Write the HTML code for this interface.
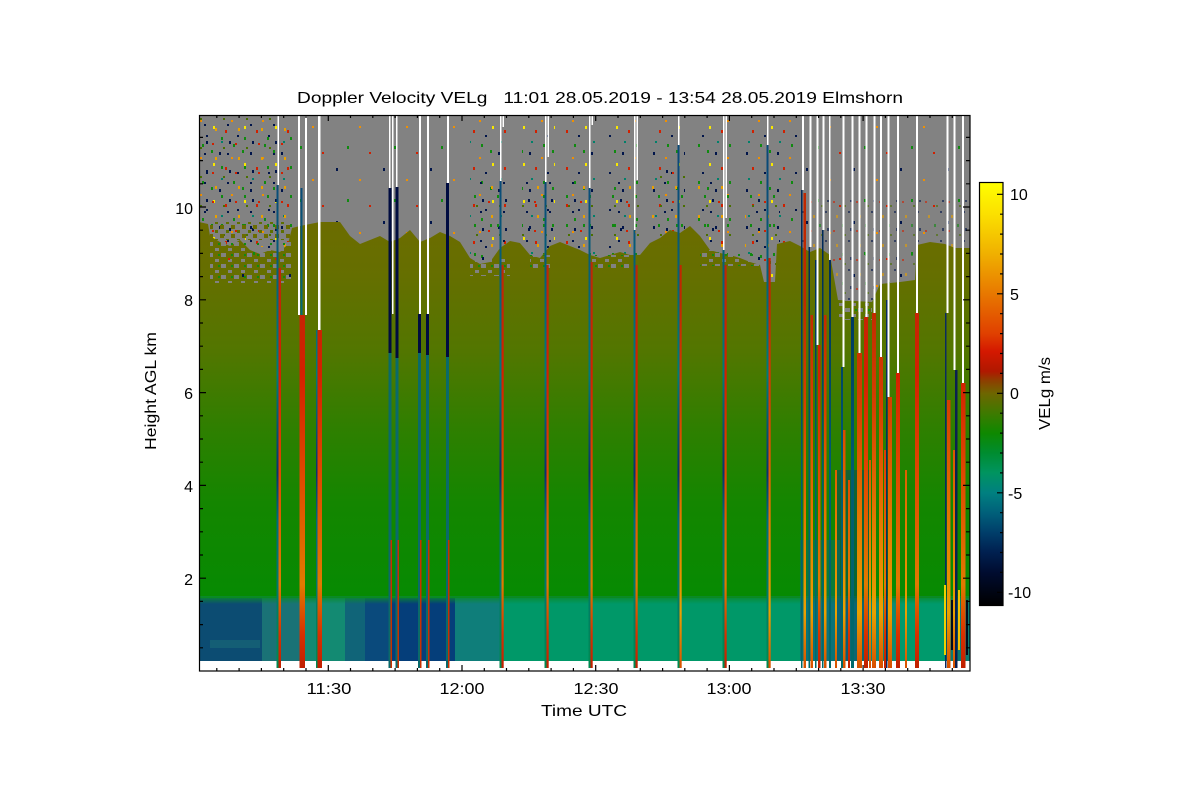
<!DOCTYPE html>
<html>
<head>
<meta charset="utf-8">
<style>
html,body{margin:0;padding:0;background:#fff;}
svg{display:block;}
text{font-family:"Liberation Sans",Arial,sans-serif;fill:#000;}
</style>
</head>
<body>
<svg width="1200" height="800" viewBox="0 0 1200 800" xmlns="http://www.w3.org/2000/svg">
<defs>
  <clipPath id="pc"><rect x="199" y="115" width="771" height="556"/></clipPath>
  <pattern id="p1" patternUnits="userSpaceOnUse" x="0" y="0" width="31" height="37">
    <rect x="2" y="4" width="2" height="3" fill="#00144a"/>
    <rect x="14" y="9" width="2" height="2" fill="#f09000"/>
    <rect x="25" y="2" width="2" height="3" fill="#108a10"/>
    <rect x="8" y="19" width="2" height="3" fill="#d02000"/>
    <rect x="20" y="24" width="2" height="2" fill="#00144a"/>
    <rect x="27" y="15" width="2" height="3" fill="#f8e800"/>
    <rect x="4" y="30" width="2" height="2" fill="#00806a"/>
    <rect x="16" y="33" width="2" height="3" fill="#108a10"/>
  </pattern>
  <pattern id="p2" patternUnits="userSpaceOnUse" x="3" y="5" width="23" height="29">
    <rect x="5" y="7" width="2" height="3" fill="#e8a000"/>
    <rect x="17" y="3" width="2" height="2" fill="#00144a"/>
    <rect x="11" y="16" width="2" height="3" fill="#108a10"/>
    <rect x="2" y="22" width="2" height="2" fill="#d02000"/>
    <rect x="19" y="20" width="2" height="3" fill="#00144a"/>
    <rect x="13" y="26" width="2" height="2" fill="#4a7000"/>
  </pattern>
  <pattern id="p3" patternUnits="userSpaceOnUse" x="0" y="0" width="47" height="53">
    <rect x="7" y="9" width="2" height="3" fill="#00144a"/>
    <rect x="30" y="20" width="2" height="2" fill="#f09000"/>
    <rect x="18" y="40" width="2" height="3" fill="#108a10"/>
    <rect x="40" y="46" width="2" height="2" fill="#d02000"/>
  </pattern>
  <pattern id="pg" patternUnits="userSpaceOnUse" x="0" y="0" width="13" height="11">
    <rect x="0" y="0" width="5" height="4" fill="#828282"/>
    <rect x="7" y="6" width="4" height="3" fill="#828282"/>
    <rect x="10" y="1" width="2" height="2" fill="#108a10"/>
  </pattern>
  <pattern id="po" patternUnits="userSpaceOnUse" x="0" y="0" width="11" height="9">
    <rect x="0" y="0" width="4" height="4" fill="#6a6c00"/>
    <rect x="6" y="5" width="3" height="3" fill="#5e7000"/>
  </pattern>
  <linearGradient id="cg" gradientUnits="userSpaceOnUse" x1="0" y1="220" x2="0" y2="597">
    <stop offset="0" stop-color="#6c6c00"/>
    <stop offset="0.15" stop-color="#656f00"/>
    <stop offset="0.35" stop-color="#527600"/>
    <stop offset="0.55" stop-color="#2f7f00"/>
    <stop offset="0.75" stop-color="#148600"/>
    <stop offset="1" stop-color="#068a02"/>
  </linearGradient>
  <linearGradient id="rs" gradientUnits="userSpaceOnUse" x1="0" y1="250" x2="0" y2="668">
    <stop offset="0" stop-color="#b82a08"/>
    <stop offset="0.3" stop-color="#d42000"/>
    <stop offset="0.55" stop-color="#e04a00"/>
    <stop offset="0.8" stop-color="#e07a00"/>
    <stop offset="0.92" stop-color="#d83000"/>
    <stop offset="1" stop-color="#c02000"/>
  </linearGradient>
  <linearGradient id="ts" gradientUnits="userSpaceOnUse" x1="0" y1="180" x2="0" y2="668">
    <stop offset="0" stop-color="#0a4a78"/>
    <stop offset="0.4" stop-color="#007a7a"/>
    <stop offset="0.6" stop-color="#0a3070"/>
    <stop offset="0.7" stop-color="#006a80"/>
    <stop offset="1" stop-color="#008a50"/>
  </linearGradient>
  <linearGradient id="ro" gradientUnits="userSpaceOnUse" x1="0" y1="300" x2="0" y2="668">
    <stop offset="0" stop-color="#c02800"/>
    <stop offset="0.3" stop-color="#d84000"/>
    <stop offset="0.6" stop-color="#e47800"/>
    <stop offset="0.85" stop-color="#eaa000"/>
    <stop offset="1" stop-color="#d85000"/>
  </linearGradient>
  <linearGradient id="nv" gradientUnits="userSpaceOnUse" x1="0" y1="250" x2="0" y2="668">
    <stop offset="0" stop-color="#002a58"/>
    <stop offset="0.5" stop-color="#005a72"/>
    <stop offset="1" stop-color="#006a6a"/>
  </linearGradient>
  <linearGradient id="blg" x1="0" y1="0" x2="0" y2="1">
    <stop offset="0" stop-color="#0a8a2a"/>
    <stop offset="1" stop-color="#0a8a2a" stop-opacity="0"/>
  </linearGradient>
  <linearGradient id="cb" x1="0" y1="0" x2="0" y2="1">
    <stop offset="0" stop-color="#ffff00"/>
    <stop offset="0.076" stop-color="#fbe000"/>
    <stop offset="0.17" stop-color="#f0b000"/>
    <stop offset="0.264" stop-color="#e87800"/>
    <stop offset="0.358" stop-color="#e04000"/>
    <stop offset="0.40" stop-color="#d41800"/>
    <stop offset="0.447" stop-color="#b01800"/>
    <stop offset="0.47" stop-color="#8c4000"/>
    <stop offset="0.499" stop-color="#6e6600"/>
    <stop offset="0.546" stop-color="#3e7a00"/>
    <stop offset="0.593" stop-color="#0e8800"/>
    <stop offset="0.64" stop-color="#008c30"/>
    <stop offset="0.687" stop-color="#009460"/>
    <stop offset="0.734" stop-color="#008080"/>
    <stop offset="0.781" stop-color="#00607a"/>
    <stop offset="0.828" stop-color="#003e6a"/>
    <stop offset="0.874" stop-color="#002050"/>
    <stop offset="0.922" stop-color="#000c30"/>
    <stop offset="1" stop-color="#000000"/>
  </linearGradient>
</defs>

<!-- Title -->
<text x="297" y="103" font-size="16" textLength="606" lengthAdjust="spacingAndGlyphs" style="white-space:pre">Doppler Velocity VELg   11:01 28.05.2019 - 13:54 28.05.2019 Elmshorn</text>

<g clip-path="url(#pc)">
  <!-- gray background -->
  <rect x="199" y="115" width="771" height="546" fill="#828282"/>
  <!-- speckles -->
  <rect x="199" y="118" width="93" height="170" fill="url(#p1)"/>
  <rect x="199" y="118" width="93" height="170" fill="url(#p2)"/>
  <rect x="300" y="118" width="160" height="140" fill="url(#p3)"/>
  <rect x="470" y="118" width="40" height="160" fill="url(#p1)"/>
  <rect x="470" y="180" width="40" height="95" fill="url(#p2)"/>
  <rect x="522" y="118" width="33" height="150" fill="url(#p1)"/>
  <rect x="522" y="180" width="33" height="90" fill="url(#p2)"/>
  <rect x="565" y="118" width="30" height="150" fill="url(#p1)"/>
  <rect x="565" y="180" width="30" height="90" fill="url(#p2)"/>
  <rect x="608" y="118" width="32" height="150" fill="url(#p1)"/>
  <rect x="608" y="180" width="32" height="90" fill="url(#p2)"/>
  <rect x="652" y="118" width="33" height="130" fill="url(#p1)"/>
  <rect x="652" y="170" width="33" height="80" fill="url(#p2)"/>
  <rect x="698" y="118" width="34" height="150" fill="url(#p1)"/>
  <rect x="698" y="180" width="34" height="90" fill="url(#p2)"/>
  <rect x="745" y="118" width="55" height="170" fill="url(#p1)"/>
  <rect x="745" y="190" width="35" height="100" fill="url(#p2)"/>
  <rect x="800" y="118" width="168" height="200" fill="url(#p3)"/>
  <rect x="800" y="200" width="168" height="120" fill="url(#p2)" opacity="0.6"/>
  <!-- cloud -->
  <polygon fill="url(#cg)" points="199,222 208,224 210,236 220,242 230,246 240,240 250,250 260,254 270,250 280,252 288,244 292,228 300,226 310,224 320,222 340,222 350,236 360,244 370,240 380,236 390,242 400,238 410,230 420,242 430,238 440,232 450,236 460,242 470,258 480,264 490,262 500,248 510,241 520,243 530,255 540,258 550,246 560,242 570,246 580,250 590,255 600,258 610,255 620,252 630,255 640,255 650,243 660,238 670,230 680,233 690,226 700,236 710,250 720,253 730,255 740,258 750,262 760,265 764,282 775,282 777,244 790,241 800,246 810,252 820,248 830,255 838,300 872,302 880,284 900,282 915,280 917,245 930,242 945,244 955,248 970,248 970,598 199,598"/>
  <!-- ragged edges -->
  <rect x="210" y="238" width="82" height="45" fill="url(#pg)"/>
  <rect x="210" y="238" width="82" height="45" fill="url(#p3)"/>
  <rect x="210" y="222" width="82" height="18" fill="url(#po)"/>
  <rect x="470" y="258" width="40" height="18" fill="url(#pg)"/>
  <rect x="530" y="255" width="20" height="15" fill="url(#pg)"/>
  <rect x="590" y="255" width="40" height="15" fill="url(#pg)"/>
  <rect x="700" y="250" width="60" height="16" fill="url(#pg)"/>
  <rect x="838" y="300" width="34" height="20" fill="url(#pg)"/>
  <!-- boundary layer -->
  <rect x="199" y="598" width="64" height="63" fill="#0c4c72"/>
  <rect x="262" y="598" width="39" height="63" fill="#1a7276"/>
  <rect x="300" y="598" width="46" height="63" fill="#138a72"/>
  <rect x="345" y="598" width="21" height="63" fill="#106478"/>
  <rect x="365" y="598" width="28" height="63" fill="#0a4a7c"/>
  <rect x="392" y="598" width="64" height="63" fill="#053e7a"/>
  <rect x="455" y="598" width="46" height="63" fill="#0f7e7a"/>
  <rect x="500" y="598" width="301" height="63" fill="#009868"/>
  <rect x="800" y="598" width="51" height="63" fill="#0a7a78"/>
  <rect x="850" y="598" width="51" height="63" fill="#0e8a72"/>
  <rect x="900" y="598" width="46" height="63" fill="#009a6c"/>
  <rect x="945" y="598" width="25" height="63" fill="#0a7a70"/>
  <rect x="199" y="596" width="771" height="8" fill="url(#blg)"/>
  <rect x="210" y="640" width="50" height="8" fill="#1a6a78" opacity="0.6"/>
  <!-- right turbulent patches -->
  <rect x="835" y="470" width="35" height="191" fill="#0a3a70" opacity="0.45"/>
  <rect x="800" y="540" width="40" height="121" fill="#0a6a78" opacity="0.45"/>
  <!-- white bottom band -->
  <rect x="199" y="661" width="771" height="10" fill="#ffffff"/>

  <!-- left group -->
  <rect x="277.5" y="115" width="1.5" height="70" fill="#fff"/>
  <rect x="276.5" y="185" width="2" height="483" fill="url(#ts)"/>
  <rect x="278.5" y="268" width="2.5" height="400" fill="url(#rs)"/>

  <rect x="298" y="115" width="2" height="200" fill="#fff"/>
  <rect x="300.5" y="188" width="2" height="480" fill="url(#ts)"/>
  <rect x="305" y="115" width="2" height="200" fill="#fff"/>
  <rect x="299.5" y="315" width="5.5" height="353" fill="url(#rs)"/>

  <rect x="318" y="115" width="2.5" height="215" fill="#fff"/>
  <rect x="316" y="330" width="1.5" height="338" fill="url(#ts)"/>
  <rect x="317.5" y="330" width="4.5" height="338" fill="url(#rs)"/>

  <!-- navy group -->
  <rect x="389" y="115" width="1.5" height="73" fill="#fff"/>
  <rect x="388.5" y="188" width="3" height="165" fill="#000c40"/>
  <rect x="392" y="115" width="1.5" height="199" fill="#fff"/>
  <rect x="388.5" y="353" width="3" height="315" fill="#0a6a6a"/>
  <rect x="390.5" y="540" width="1.5" height="128" fill="#c83000"/>

  <rect x="396" y="115" width="1.5" height="72" fill="#fff"/>
  <rect x="395.5" y="187" width="3" height="171" fill="#000c40"/>
  <rect x="395.5" y="358" width="3" height="310" fill="#0a6a6a"/>
  <rect x="397.5" y="540" width="1.5" height="128" fill="#c83000"/>

  <rect x="419" y="115" width="2" height="199" fill="#fff"/>
  <rect x="418" y="314" width="3" height="39" fill="#000c40"/>
  <rect x="418" y="353" width="3" height="315" fill="#0a6a6a"/>
  <rect x="420" y="540" width="1.5" height="128" fill="#c83000"/>

  <rect x="427" y="115" width="2" height="199" fill="#fff"/>
  <rect x="426" y="314" width="3" height="41" fill="#000c40"/>
  <rect x="426" y="355" width="3" height="313" fill="#0a6a6a"/>
  <rect x="428" y="540" width="1.5" height="128" fill="#c83000"/>

  <rect x="447" y="115" width="2" height="68" fill="#fff"/>
  <rect x="446" y="183" width="3" height="174" fill="#000c40"/>
  <rect x="446" y="357" width="3" height="311" fill="#0a6a6a"/>
  <rect x="448" y="540" width="1.5" height="128" fill="#c83000"/>

  <!-- main group -->
  <rect x="500" y="115" width="1.5" height="66" fill="#fff"/>
  <rect x="502.5" y="115" width="1.5" height="12" fill="#fff"/>
  <rect x="499.5" y="181" width="2" height="487" fill="url(#ts)"/>
  <rect x="501.5" y="265" width="2.2" height="403" fill="url(#rs)"/>

  <rect x="545" y="115" width="1.5" height="67" fill="#fff"/>
  <rect x="547.5" y="115" width="1.5" height="42" fill="#fff"/>
  <rect x="544.5" y="182" width="2" height="486" fill="url(#ts)"/>
  <rect x="546.5" y="265" width="2.2" height="403" fill="url(#rs)"/>

  <rect x="589" y="115" width="1.5" height="73" fill="#fff"/>
  <rect x="591.5" y="115" width="1.5" height="10" fill="#fff"/>
  <rect x="588.5" y="188" width="2" height="480" fill="url(#ts)"/>
  <rect x="590.5" y="262" width="2.2" height="406" fill="url(#rs)"/>

  <rect x="634" y="115" width="1.5" height="115" fill="#fff"/>
  <rect x="636.5" y="115" width="1.5" height="65" fill="#fff"/>
  <rect x="633.5" y="230" width="2" height="438" fill="url(#ts)"/>
  <rect x="635.5" y="265" width="2.2" height="403" fill="url(#rs)"/>

  <rect x="678" y="115" width="1.5" height="30" fill="#fff"/>
  <rect x="677.5" y="145" width="2" height="523" fill="url(#ts)"/>
  <rect x="679.5" y="265" width="2.2" height="403" fill="url(#ro)"/>

  <rect x="723" y="115" width="1.5" height="135" fill="#fff"/>
  <rect x="725.5" y="115" width="1.5" height="103" fill="#fff"/>
  <rect x="722.5" y="250" width="2" height="418" fill="url(#ts)"/>
  <rect x="724.5" y="265" width="2.2" height="403" fill="url(#rs)"/>

  <rect x="767" y="115" width="1.5" height="30" fill="#fff"/>
  <rect x="766.5" y="145" width="2" height="523" fill="url(#ts)"/>
  <rect x="768.5" y="258" width="2.2" height="410" fill="url(#ro)"/>

  <!-- right group -->
  <rect x="802" y="115" width="2" height="75" fill="#fff"/>
  <rect x="801" y="190" width="1.5" height="478" fill="url(#nv)"/>
  <rect x="803.5" y="193" width="2.5" height="475" fill="url(#ro)"/>

  <rect x="809.5" y="115" width="2" height="132" fill="#fff"/>
  <rect x="808.5" y="247" width="1.5" height="421" fill="url(#nv)"/>
  <rect x="810.5" y="315" width="2.5" height="353" fill="url(#ro)"/>

  <rect x="816.5" y="115" width="2" height="230" fill="#fff"/>
  <rect x="815" y="260" width="1.5" height="408" fill="url(#nv)"/>
  <rect x="818" y="345" width="2.5" height="323" fill="url(#rs)"/>

  <rect x="822.5" y="115" width="2" height="115" fill="#fff"/>
  <rect x="822" y="230" width="1.5" height="438" fill="url(#nv)"/>
  <rect x="824" y="315" width="2.5" height="353" fill="url(#ro)"/>

  <rect x="829" y="115" width="1.5" height="145" fill="#fff"/>
  <rect x="829" y="260" width="2" height="408" fill="url(#nv)"/>

  <rect x="835" y="470" width="2" height="198" fill="url(#ro)"/>

  <rect x="842.5" y="115" width="2" height="252" fill="#fff"/>
  <rect x="841" y="367" width="2" height="301" fill="url(#nv)"/>
  <rect x="843" y="430" width="2.5" height="238" fill="url(#ro)"/>

  <rect x="848" y="480" width="2" height="188" fill="url(#rs)"/>

  <rect x="851.5" y="115" width="2" height="202" fill="#fff"/>
  <rect x="851" y="317" width="3" height="351" fill="url(#nv)"/>

  <rect x="858.5" y="115" width="2" height="238" fill="#fff"/>
  <rect x="857" y="353" width="5" height="315" fill="url(#ro)"/>

  <rect x="865.5" y="115" width="2" height="202" fill="#fff"/>
  <rect x="864" y="317" width="4" height="351" fill="url(#rs)"/>

  <rect x="869" y="460" width="2" height="208" fill="url(#ro)"/>

  <rect x="873.5" y="115" width="2" height="198" fill="#fff"/>
  <rect x="872" y="313" width="4" height="355" fill="url(#ro)"/>

  <rect x="880" y="115" width="2" height="242" fill="#fff"/>
  <rect x="879" y="357" width="4" height="311" fill="url(#ro)"/>

  <rect x="884" y="450" width="2" height="218" fill="url(#rs)"/>

  <rect x="887.5" y="115" width="2" height="282" fill="#fff"/>
  <rect x="886" y="300" width="1.5" height="368" fill="#0a2a60"/>
  <rect x="888" y="397" width="4" height="271" fill="url(#ro)"/>

  <rect x="897" y="115" width="2" height="258" fill="#fff"/>
  <rect x="896" y="373" width="4" height="295" fill="url(#rs)"/>

  <rect x="905" y="470" width="2" height="198" fill="url(#ro)"/>

  <rect x="916" y="115" width="2" height="198" fill="#fff"/>
  <rect x="915" y="313" width="4" height="355" fill="url(#rs)"/>

  <rect x="946.5" y="115" width="2" height="198" fill="#fff"/>
  <rect x="945" y="313" width="1.5" height="355" fill="#0a2a60"/>
  <rect x="947" y="400" width="3.5" height="268" fill="url(#ro)"/>

  <rect x="953.5" y="115" width="2" height="255" fill="#fff"/>
  <rect x="955" y="370" width="2.5" height="298" fill="#0a2050"/>
  <rect x="953" y="450" width="2" height="218" fill="url(#ro)"/>

  <rect x="962" y="115" width="2" height="268" fill="#fff"/>
  <rect x="961" y="383" width="4.5" height="285" fill="url(#rs)"/>

  <rect x="944" y="585" width="2" height="70" fill="#f0d000"/>
  <rect x="951" y="600" width="2" height="50" fill="#000c20"/>
  <rect x="958" y="590" width="2" height="60" fill="#f0c000"/>
  <rect x="966" y="600" width="2" height="55" fill="#000c20"/>
</g>

<!-- plot frame -->
<rect x="199.5" y="115.5" width="770.5" height="555.5" fill="none" stroke="#000" stroke-width="1.2"/>
<path stroke="#000" stroke-width="1.2" fill="none" d="
M199 647.8h4 M199 624.6h4 M199 601.4h4 M199 578.2h7 M199 555h4 M199 531.8h4 M199 508.6h4 M199 485.4h7 M199 462.2h4 M199 439h4 M199 415.8h4 M199 392.6h7 M199 369.4h4 M199 346.2h4 M199 323h4 M199 299.8h7 M199 276.6h4 M199 253.4h4 M199 230.2h4 M199 207h7 M199 183.8h4 M199 160.6h4 M199 137.4h4
M970 647.8h-4 M970 624.6h-4 M970 601.4h-4 M970 578.2h-7 M970 555h-4 M970 531.8h-4 M970 508.6h-4 M970 485.4h-7 M970 462.2h-4 M970 439h-4 M970 415.8h-4 M970 392.6h-7 M970 369.4h-4 M970 346.2h-4 M970 323h-4 M970 299.8h-7 M970 276.6h-4 M970 253.4h-4 M970 230.2h-4 M970 207h-7 M970 183.8h-4 M970 160.6h-4 M970 137.4h-4
M216.8 671v-3 M239.1 671v-3 M261.4 671v-3 M283.7 671v-3 M306 671v-3 M328.3 671v-6 M350.5 671v-3 M372.8 671v-3 M395.1 671v-3 M417.4 671v-3 M439.7 671v-3 M462 671v-6 M484.3 671v-3 M506.5 671v-3 M528.8 671v-3 M551.1 671v-3 M573.4 671v-3 M595.7 671v-6 M618 671v-3 M640.3 671v-3 M662.6 671v-3 M684.8 671v-3 M707.1 671v-3 M729.4 671v-6 M751.7 671v-3 M774 671v-3 M796.3 671v-3 M818.6 671v-3 M840.8 671v-3 M863.1 671v-6 M885.4 671v-3 M907.7 671v-3 M930 671v-3 M952.3 671v-3
M216.8 115v3 M239.1 115v3 M261.4 115v3 M283.7 115v3 M306 115v3 M328.3 115v6 M350.5 115v3 M372.8 115v3 M395.1 115v3 M417.4 115v3 M439.7 115v3 M462 115v6 M484.3 115v3 M506.5 115v3 M528.8 115v3 M551.1 115v3 M573.4 115v3 M595.7 115v6 M618 115v3 M640.3 115v3 M662.6 115v3 M684.8 115v3 M707.1 115v3 M729.4 115v6 M751.7 115v3 M774 115v3 M796.3 115v3 M818.6 115v3 M840.8 115v3 M863.1 115v6 M885.4 115v3 M907.7 115v3 M930 115v3 M952.3 115v3"/>

<!-- y tick labels -->
<g font-size="16" text-anchor="end">
  <text x="193" y="585">2</text>
  <text x="193" y="492">4</text>
  <text x="193" y="399">6</text>
  <text x="193" y="306">8</text>
  <text x="193" y="214">10</text>
</g>
<text x="0" y="0" font-size="16" text-anchor="middle" textLength="118" lengthAdjust="spacingAndGlyphs" transform="translate(156,391) rotate(-90)">Height AGL km</text>

<!-- x tick labels -->
<g font-size="16" text-anchor="middle">
  <text x="329" y="694" textLength="45" lengthAdjust="spacingAndGlyphs">11:30</text>
  <text x="462" y="694" textLength="45" lengthAdjust="spacingAndGlyphs">12:00</text>
  <text x="596" y="694" textLength="45" lengthAdjust="spacingAndGlyphs">12:30</text>
  <text x="729" y="694" textLength="45" lengthAdjust="spacingAndGlyphs">13:00</text>
  <text x="863" y="694" textLength="45" lengthAdjust="spacingAndGlyphs">13:30</text>
  <text x="584" y="716" textLength="86" lengthAdjust="spacingAndGlyphs">Time UTC</text>
</g>

<!-- colorbar -->
<rect x="979" y="182" width="24" height="423.5" fill="url(#cb)"/>
<rect x="979.5" y="182.5" width="23.5" height="423" fill="none" stroke="#000" stroke-width="1.2"/>
<path stroke="#000" stroke-width="1.2" fill="none" d="
M1003 194.3h-6 M1003 214.2h-3 M1003 234.1h-3 M1003 254h-3 M1003 273.9h-3 M1003 293.8h-6 M1003 313.7h-3 M1003 333.6h-3 M1003 353.5h-3 M1003 373.4h-3 M1003 393.3h-6 M1003 413.2h-3 M1003 433.1h-3 M1003 453h-3 M1003 472.9h-3 M1003 492.8h-6 M1003 512.7h-3 M1003 532.6h-3 M1003 552.5h-3 M1003 572.4h-3 M1003 592.3h-6"/>
<g font-size="16">
  <text x="1010" y="200">10</text>
  <text x="1010" y="300">5</text>
  <text x="1010" y="399">0</text>
  <text x="1008" y="499">-5</text>
  <text x="1008" y="598">-10</text>
</g>
<text x="0" y="0" font-size="16" text-anchor="middle" textLength="73" lengthAdjust="spacingAndGlyphs" transform="translate(1050,393.5) rotate(-90)">VELg m/s</text>
</svg>
</body>
</html>
